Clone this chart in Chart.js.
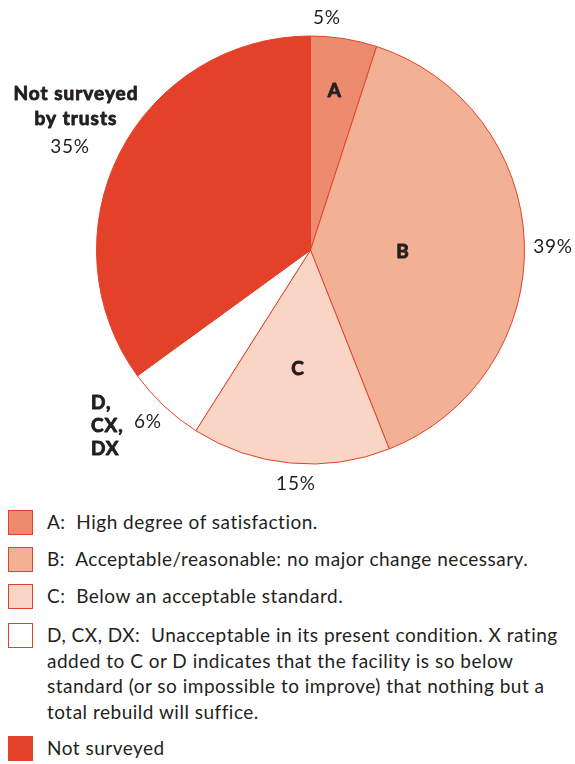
<!DOCTYPE html>
<html>
<head>
<meta charset="utf-8">
<script src="https://cdn.jsdelivr.net/npm/chart.js@4/dist/chart.umd.min.js"></script>
<style>
  html, body { margin: 0; padding: 0; background: #fff; }
  body { width: 575px; height: 764px; position: relative; overflow: hidden; font-family: Lato, "Open Sans", sans-serif; color: #231f20; }
  #wrap { position: absolute; left: 0; top: 0; width: 575px; height: 500px; }
  #legend { position: absolute; left: 0; top: 0; width: 575px; }
  .row { position: absolute; left: 0; }
  .box { position: absolute; left: 8px; width: 23px; height: 23px; border: 1px solid #e4412a; box-sizing: content-box; }
  .txt { position: absolute; left: 47px; font-size: 19px; letter-spacing: 0.5px; line-height: 25.5px; white-space: pre; }
</style>
</head>
<body>
<div id="wrap"><canvas id="c" width="575" height="500"></canvas></div>
<div id="legend"></div>
<script>
// ---- data ----
const categories = ["A", "B", "C", "D, CX, DX", "Not surveyed"];
const values = [5, 39, 15, 6, 35];
const sliceColors = ["#ed8b6f", "#f2b094", "#f8d5c5", "#ffffff", "#e4412a"];
const legendLines = [
  ["A:  High degree of satisfaction."],
  ["B:  Acceptable/reasonable: no major change necessary."],
  ["C:  Below an acceptable standard."],
  ["D, CX, DX:  Unacceptable in its present condition. X rating",
   "added to C or D indicates that the facility is so below",
   "standard (or so impossible to improve) that nothing but a",
   "total rebuild will suffice."],
  ["Not surveyed"]
];

// label placement relative to pie centre, in units of radius
const labelSpecs = [
  { lines: ["A"], bold: true, fx: 0.114, fy: -0.743, align: "center" },
  { lines: ["B"], bold: true, fx: 0.432, fy: 0.009, align: "center" },
  { lines: ["C"], bold: true, fx: -0.058, fy: 0.556, align: "center" },
  { lines: [values[0] + "%"], bold: false, fx: 0.077, fy: -1.084, align: "center" },
  { lines: [values[1] + "%"], bold: false, fx: 1.133, fy: -0.014, align: "center" },
  { lines: [values[2] + "%"], bold: false, fx: -0.068, fy: 1.093, align: "center" },
  { lines: ["Not surveyed", "by trusts"], bold: true, fx: -1.096, fy: -0.729, align: "center", lh: 25 },
  { lines: [values[4] + "%"], bold: false, fx: -1.124, fy: -0.481, align: "center" },
  { lines: ["D,", "CX,", "DX"], bold: true, fx: -1.026, fy: 0.715, align: "left", lh: 23 },
  { lines: [values[3] + "%"], bold: false, fx: -0.825, fy: 0.804, align: "left" }
];

const labelPlugin = {
  id: "pieLabels",
  afterDatasetsDraw(chart) {
    const arc = chart.getDatasetMeta(0).data[0];
    const cx = arc.x, cy = arc.y, R = arc.outerRadius;
    const ctx = chart.ctx;
    ctx.save();
    ctx.fillStyle = "#231f20";
    ctx.strokeStyle = "#231f20";
    ctx.lineWidth = 0.9;
    ctx.lineJoin = "round";
    ctx.textBaseline = "middle";
    labelSpecs.forEach(s => {
      ctx.font = (s.bold ? "bold " : "") + "19px Lato, 'Open Sans', sans-serif";
      ctx.letterSpacing = s.bold ? "1px" : "0.8px";
      ctx.textAlign = s.align;
      const x = cx + s.fx * R, y0 = cy + s.fy * R;
      s.lines.forEach((t, i) => {
        const y = y0 + i * (s.lh || 0);
        ctx.fillText(t, x, y);
        if (s.bold) ctx.strokeText(t, x, y);
      });
    });
    ctx.restore();
  }
};

new Chart(document.getElementById("c"), {
  type: "pie",
  data: {
    labels: categories,
    datasets: [{
      data: values,
      backgroundColor: sliceColors,
      borderColor: "#e4412a",
      borderWidth: 1,
      hoverOffset: 0,
      radius: 214
    }]
  },
  options: {
    responsive: false,
    animation: false,
    events: [],
    layout: { padding: { left: 96, right: 50, top: 36, bottom: 36 } },
    plugins: { legend: { display: false }, tooltip: { enabled: false } }
  },
  plugins: [labelPlugin]
});

// legend
const rowTops = [510, 547, 584, 623, 736];
const leg = document.getElementById("legend");
categories.forEach((c, i) => {
  const row = document.createElement("div");
  row.className = "row";
  row.style.top = rowTops[i] + "px";
  const box = document.createElement("div");
  box.className = "box";
  box.style.background = sliceColors[i];
  row.appendChild(box);
  const txt = document.createElement("div");
  txt.className = "txt";
  txt.style.top = "-1px";
  txt.textContent = legendLines[i].join("\n");
  row.appendChild(txt);
  leg.appendChild(row);
});
</script>
</body>
</html>
